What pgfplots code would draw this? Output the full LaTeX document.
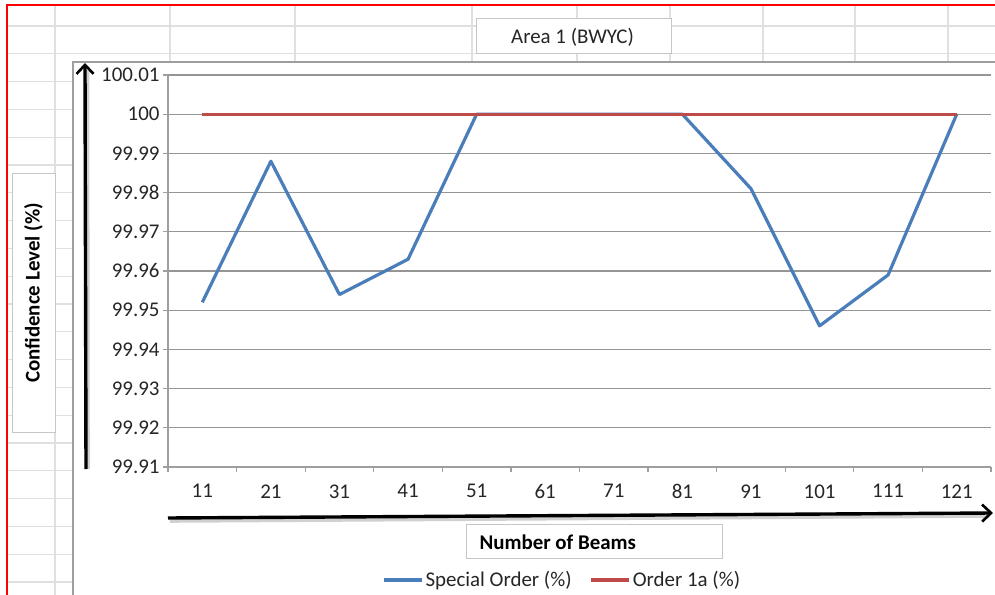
\documentclass[border=0pt]{standalone}
\usepackage{pgfplots}
\pgfplotsset{compat=1.18}
\usepackage{pgfplotstable}
\usepackage{fontspec}
\setmainfont{Carlito}
\usetikzlibrary{arrows.meta}

\definecolor{sheetgrid}{HTML}{E0E0E0}
\definecolor{boxgray}{HTML}{C6C6C6}
\definecolor{axgray}{HTML}{9E9E9E}
\definecolor{gridgray}{HTML}{959595}
\definecolor{seriesblue}{HTML}{4A7EBB}
\definecolor{seriesred}{HTML}{BE4B48}
\definecolor{textgray}{HTML}{262626}

% idx = category position, beams = number of beams
\pgfplotstableread{
idx beams special order1a
0   11    99.952  100
1   21    99.988  100
2   31    99.954  100
3   41    99.963  100
4   51    100     100
5   61    100     100
6   71    100     100
7   81    100     100
8   91    99.981  100
9   101   99.946  100
10  111   99.959  100
11  121   100     100
}\beamdata

\newcommand{\chartfont}{\fontsize{21}{24}\selectfont}

\begin{document}
\begin{tikzpicture}
\clip (0,0) rectangle (995bp,-595bp);
\begin{scope}[x=1bp,y=-1bp]
  \fill[white] (0,0) rectangle (995,595);
  % worksheet cells around the chart
  \foreach \yy in {26,53.8} \draw[sheetgrid, line width=1.2bp] (7,\yy) -- (995,\yy);
  \foreach \yy in {81.6,109.4,137.2,165,192.8,220.6,248.4,276.2,304,331.8,359.6,387.4,415.2,443,470.8,498.6,526.4,554.2,582}
    \draw[sheetgrid, line width=1.2bp] (7,\yy) -- (73,\yy);
  \draw[sheetgrid, line width=1.2bp] (55,5) -- (55,595);
  \foreach \xx in {170,295,472,577,670,763,855,948}
    \draw[sheetgrid, line width=1.2bp] (\xx,5) -- (\xx,62);
  \draw[red, line width=1.2bp] (7,600) -- (7,5) -- (1000,5);
  % chart area
  \fill[white] (73,62) rectangle (1000,600);
  \draw[axgray, line width=1.2bp] (73,600) -- (73,62) -- (1000,62);
  % title box
  \filldraw[fill=white, draw=boxgray, line width=1bp] (476,18) rectangle (671,53);
  \node[text=textgray, font=\chartfont] at (572.5,37) {Area 1 (BWYC)};
  % vertical axis title box
  \filldraw[fill=white, draw=boxgray, line width=1bp] (12,173) rectangle (55,432);
  \node[rotate=90, text=black, font=\chartfont\bfseries] at (33.5,293) {Confidence Level (\%)};
  % horizontal axis title box
  \filldraw[fill=white, draw=boxgray, line width=1bp] (466,524) rectangle (722,558);
  \node[anchor=west, text=black, font=\chartfont\bfseries] at (476,542) {Number of Beams};
\end{scope}

\begin{axis}[
  at={(168bp,-467bp)}, anchor=south west,
  scale only axis, width=823bp, height=392bp,
  xmin=-0.5, xmax=11.5, ymin=99.91, ymax=100.01,
  axis lines*=left,
  axis line style={axgray, line width=1.2bp},
  xtick={0,...,11},
  xticklabels={11,21,31,41,51,61,71,81,91,101,111,121},
  minor xtick={-0.5,0.5,...,11.5},
  major x tick style={draw=none},
  minor x tick style={axgray, line width=1.2bp},
  minor tick length=5bp,
  ytick={99.91,99.92,99.93,99.94,99.95,99.96,99.97,99.98,99.99,100,100.01},
  yticklabels={99.91,99.92,99.93,99.94,99.95,99.96,99.97,99.98,99.99,100,100.01},
  major tick length=5bp,
  y tick style={axgray, line width=1.2bp},
  tick align=outside,
  ymajorgrids,
  major grid style={gridgray, line width=1.2bp},
  /pgf/number format/assume math mode=true,
  tick label style={font=\chartfont, text=textgray},
  xticklabel style={yshift=-9bp},
  legend columns=2,
  legend style={draw=none, fill=none, font=\chartfont, text=textgray,
    at={(axis description cs:0.479,-0.288)}, anchor=center,
    /tikz/every even column/.append style={column sep=16bp},
    inner sep=0pt},
  legend image code/.code={\draw[#1] (0bp,0bp) -- (38bp,0bp);},
  clip=false,
]
\addplot[seriesblue, line width=3.2bp, line join=round] table[x=idx, y=special] {\beamdata};
\addlegendentry{Special Order (\%)}
\addplot[seriesred, line width=3.2bp] table[x=idx, y=order1a] {\beamdata};
\addlegendentry{Order 1a (\%)}
\end{axis}

\begin{scope}[x=1bp,y=-1bp]
  % axis arrows with a soft shadow
  \draw[black!30, opacity=0.6, line width=3.6bp] (88,469) -- (87.5,70);
  \draw[black!30, opacity=0.6, line width=3.6bp] (170,521) -- (988,516);
  \draw[black, line width=3.4bp, -{Straight Barb[length=9bp, width=17bp, line width=2.6bp]}] (86,469) -- (85,63);
  \draw[black, line width=3.4bp, -{Straight Barb[length=9bp, width=17bp, line width=2.6bp]}] (168,518) -- (993,513);
\end{scope}
\end{tikzpicture}
\end{document}
